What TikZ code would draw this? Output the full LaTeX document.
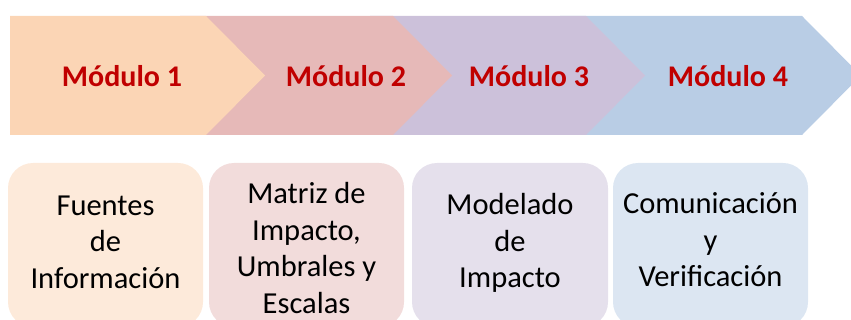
\documentclass[tikz,border=0pt]{standalone}
\usepackage{fontspec}
\setmainfont{Carlito}
\definecolor{chevA}{HTML}{FBD5B5}
\definecolor{chevB}{HTML}{E6B9B8}
\definecolor{chevC}{HTML}{CCC1DA}
\definecolor{chevD}{HTML}{B9CDE5}
\definecolor{boxA}{HTML}{FDEADA}
\definecolor{boxB}{HTML}{F2DCDB}
\definecolor{boxC}{HTML}{E5E0EC}
\definecolor{boxD}{HTML}{DCE6F2}
\definecolor{modred}{HTML}{C00000}
\tikzset{
  modlabel/.style={anchor=base, text=modred, font=\fontsize{30}{36}\selectfont\bfseries, inner sep=0pt},
  infobox/.style={rectangle, rounded corners=25pt, minimum width=195pt, minimum height=164pt, inner sep=0pt},
  infotext/.style={inner sep=0pt, align=center, text=black, font=\fontsize{30.5}{36.5}\selectfont}
}
\begin{document}
\begin{tikzpicture}[x=1pt,y=-1pt]
\useasboundingbox (0,0) rectangle (851,320);
\clip (0,0) rectangle (851,320);
% chevrons (back to front)
\fill[chevD] (560,16) -- (802,16) -- (861,75.5) -- (802,135) -- (560,135) -- cycle;
\fill[chevC] (370,16) -- (586,16) -- (645,75.5) -- (586,135) -- (370,135) -- cycle;
\fill[chevB] (180,16) -- (393,16) -- (452,75.5) -- (393,135) -- (180,135) -- cycle;
\fill[chevA] (10,16) -- (206,16) -- (265,75.5) -- (206,135) -- (10,135) -- cycle;
\node[modlabel] (m1) at (122,87) {Módulo 1};
\node[modlabel] (m2) at (346,87) {Módulo 2};
\node[modlabel] (m3) at (529,87) {Módulo 3};
\node[modlabel] (m4) at (728,87) {Módulo 4};
% boxes
\node[infobox, fill=boxA] (b1) at (105.5,245) {};
\node[infobox, fill=boxB] (b2) at (306.5,245) {};
\node[infobox, fill=boxC, minimum width=196pt] (b3) at (510,245) {};
\node[infobox, fill=boxD] (b4) at (710.5,245) {};
\node[infotext] (t1) at (105.5,242) {Fuentes\\de\\Información};
\node[infotext] (t2) at (306.5,248) {Matriz de\\Impacto,\\Umbrales y\\Escalas};
\node[infotext] (t3) at (510,243) {Modelado\\de\\Impacto};
\node[infotext] (t4) at (710.5,240) {Comunicación\\y\\Verificación};
\end{tikzpicture}
\end{document}
